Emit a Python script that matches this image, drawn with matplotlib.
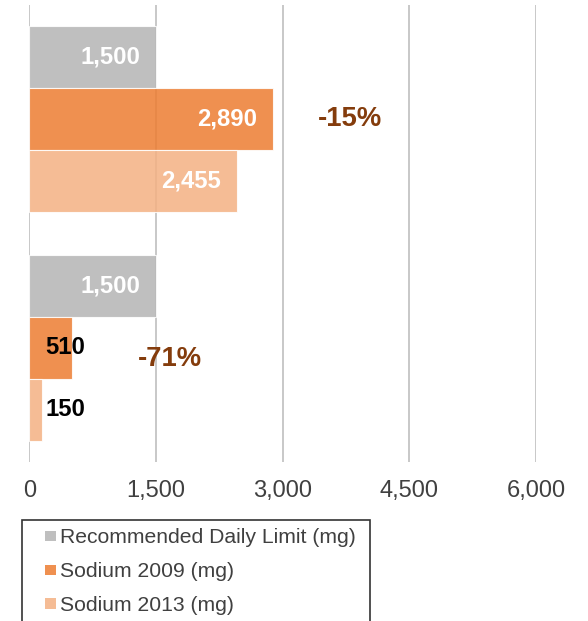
import matplotlib
matplotlib.use("Agg")
import matplotlib.pyplot as plt
from matplotlib.patches import Patch, Rectangle
from matplotlib.legend_handler import HandlerPatch
import numpy as np

plt.rcParams['font.family'] = ['Liberation Sans', 'DejaVu Sans']

categories = ["Group B", "Group A"]  # bottom to top
series_names = ["Recommended Daily Limit (mg)", "Sodium 2009 (mg)", "Sodium 2013 (mg)"]
recommended = [1500, 1500]
sodium_2009 = [510, 2890]
sodium_2013 = [150, 2455]
changes = ["-71%", "-15%"]
x_ticks = [0, 1500, 3000, 4500, 6000]

base_colors = ["#B4B4B4", "#ED7D31", "#F4B183"]
alpha = 0.85

W, H = 588, 621
fig = plt.figure(figsize=(W / 100, H / 100), dpi=100)
ax = fig.add_axes([29.3 / W, 1 - 462 / H, (536 - 29.3) / W, (462 - 5) / H])

y = np.arange(len(categories))
bh = 0.272
offsets = [bh, 0, -bh]
series = [recommended, sodium_2009, sodium_2013]
for vals, off, col in zip(series, offsets, base_colors):
    ax.barh(y + off, vals, height=bh, color=col, alpha=alpha,
            edgecolor="white", linewidth=0.8, zorder=2)

ax.set_xlim(0, 6000)
ax.set_ylim(-0.5, 1.5)
ax.set_xticks(x_ticks)
ax.set_xticklabels([f"{v:,}" for v in x_ticks])
ax.set_yticks([])
ax.tick_params(axis='x', length=0, pad=13, labelsize=17, labelcolor="#404040")
for s in ax.spines.values():
    s.set_visible(False)
ax.grid(axis='x', color="#BFBFBF", linewidth=1.2, zorder=0)
ax.set_axisbelow(True)

pad = 190
lab_fs = 17.2
for i in range(len(categories)):
    for vals, off in zip(series, offsets):
        v = vals[i]
        if v >= 1000:
            ax.text(v - pad, y[i] + off, f"{v:,}", ha='right', va='center',
                    color='white', fontsize=lab_fs, fontweight='bold', zorder=3)
        else:
            ax.text(186, y[i] + off, f"{v:,}", ha='left', va='center',
                    color='black', fontsize=lab_fs, fontweight='bold', zorder=3)

# percentage change annotations
ax.text(3797, y[1], changes[1], ha='center', va='center', color="#843C0C",
        fontsize=19.8, fontweight='bold', zorder=3)
ax.text(1666, y[0] - 0.048, changes[0], ha='center', va='center', color="#843C0C",
        fontsize=19.8, fontweight='bold', zorder=3)


def square_patch(legend, orig_handle, xdescent, ydescent, width, height, fontsize):
    s = 7.4  # points (~10 px)
    return Rectangle((width - s - xdescent, height / 2 - s / 2 - ydescent), s, s)


handles = [Patch(facecolor=c, alpha=alpha, edgecolor='none') for c in base_colors]
leg = fig.legend(handles, series_names, loc='upper left',
                 bbox_to_anchor=(22 / W, 0, 348 / W, 1 - 520 / H), mode='expand',
                 borderaxespad=0, fontsize=15.2, frameon=True, fancybox=False,
                 edgecolor='black', handlelength=1.2, handleheight=0.55,
                 handletextpad=0.18, labelspacing=0.7, borderpad=0.4,
                 labelcolor="#404040",
                 handler_map={Patch: HandlerPatch(patch_func=square_patch)})
leg.get_frame().set_linewidth(1.2)

fig.savefig("out.png", dpi=100)
